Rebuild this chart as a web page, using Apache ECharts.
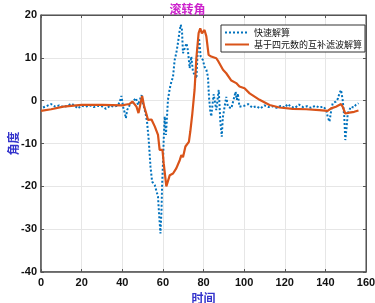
<!DOCTYPE html>
<html>
<head>
<meta charset="utf-8">
<script src="https://cdn.jsdelivr.net/npm/echarts@6/dist/echarts.min.js"></script>
<style>
  html, body { margin: 0; padding: 0; background: #fff; }
  #roll { width: 375px; height: 303px; }
</style>
</head>
<body>
<div id="roll"></div>
<script>
// 快速解算 (blue dotted)
var fastTime = [1,3,5,7,9,11,13,15,17,18,20,22,24,26,28,30,32,34,36,38,39,39.6,40.4,41.3,41.8,42.4,43.7,45.3,46.7,47.8,49.5,50.2,51.4,52.2,53,53.9,54.7,56,56.8,57.6,58.1,58.8,59.3,59.6,60.1,60.4,60.9,61.5,62,62.5,63.4,64.2,65,65.8,66.6,67.4,68.3,68.8,69.4,69.9,70.7,71.6,72.3,73.2,74,74.8,75.6,76.5,77.3,77.8,78.6,79.7,80.5,81.4,82.2,82.7,83.3,83.8,85,86.3,87.5,88.3,89,89.5,90.4,91.2,92,92.8,93.7,94.8,95.8,96.4,96.9,97.7,98.6,100,102,104,106,108,110,112,114,116,118,120,121.5,123,125,127,129,131,133,135,137,139,140.5,141.1,142,142.8,143.6,145.2,146.2,146.9,147.7,148.5,149.3,149.8,150.5,151,152.6,154,155,156.3];
var fastAngle = [-1.6,-1.2,-0.8,-1.4,-1.1,-1.5,-1.2,-0.7,-1.3,-1.8,-1.2,-1.4,-1.1,-1.5,-1.2,-1.3,-1.9,-1.2,-1.4,-1.1,0.2,1.1,-1.4,-3,-4.1,-2.2,-1,-0.2,0.6,-1,1.3,-0.6,-2.8,-4.9,-9,-15.4,-18.9,-19.7,-19.7,-22.4,-26.2,-31,-26,-20,-13.9,-9.2,-3.7,-8,-4,0.2,2.9,4.4,5.6,9.5,11.1,13.4,16.5,17.7,16.5,11.1,10.7,13.4,11.8,7.6,10.3,6.8,7.2,5.2,13.4,14.6,10.3,9.5,7.9,7.2,5.6,0.9,-2.2,-3.7,1.5,-2.2,2.5,-5,-8.4,-4,-1.4,0.9,-1.4,-1.2,-1.8,0.2,2.1,0.2,1.7,-1.4,-1.8,-1.2,-0.8,-1.6,-1.3,-1.8,-1.1,-1.5,-1.3,-1.7,-1.2,-1.6,-0.8,-1.4,-1.7,-0.9,-1.5,-1.3,-1.7,-1.2,-1.6,-1.4,-2.2,-3.7,-4.9,-2.5,-0.6,-0.2,0.5,1.7,2.5,0.2,-3.7,-9.2,-6,-3,-1.4,-1.6,-1,-0.6];

// 基于四元数的互补滤波解算 (orange solid)
var fusedTime = [0,5,11,20,30,40,40.4,42,43.5,45,47,48,49.8,50.8,52,52.7,54.4,56,57.6,58.4,59.8,60.4,61.7,63.4,65,66.6,68.3,69.1,69.9,71.1,72,72.8,73.5,74.5,75.6,76.5,77.6,78.4,79.2,80.5,81.4,82.5,83.8,86.3,87.4,88,89.6,91.2,92,93.7,94.5,96.1,97.7,100.2,102.7,107.6,112.5,117.4,123.9,130.5,137,141.1,142.8,145.2,147.7,148.5,149.8,151.8,154.2,156.3];
var fusedAngle = [-2.4,-2,-1.4,-1,-1,-1.1,-1.3,-0.9,-0.8,-0.2,-1.4,-2.9,1.1,-1.4,-3.3,-4.5,-4.4,-6,-8,-11.5,-11.5,-14.6,-20,-17.4,-17,-15.8,-13.9,-12.7,-13.2,-10.7,-11,-9.6,-7.2,-3,2.5,10,15.8,16.9,15.7,16.5,15,10.7,10.3,9.9,9.1,8.8,7.2,6.4,6,4.7,4.4,4.1,3.3,2.9,1.7,0.2,-1,-1.6,-1.9,-2,-2.2,-2.4,-1.8,-1.4,-0.8,-1.4,-3,-2.8,-2.6,-2.3];

function pairs(xs, ys) {
    return xs.map(function (x, i) { return [x, ys[i]]; });
}

var chart = echarts.init(document.getElementById('roll'));

var nameFont = {
    color: '#3333cc',
    fontSize: 12,
    fontWeight: 'bold',
    fontFamily: 'Noto Sans CJK SC'
};

chart.setOption({
    animation: false,
    title: {
        text: '滚转角',
        left: 'center',
        top: -2,
        textStyle: {
            color: '#cc22cc',
            fontSize: 12,
            fontWeight: 'bold',
            fontFamily: 'Noto Sans CJK SC'
        }
    },
    legend: {
        orient: 'vertical',
        right: 10,
        top: 25,
        backgroundColor: '#fff',
        borderColor: '#333',
        borderWidth: 1,
        borderRadius: 0,
        padding: [3, 3, 3, 3],
        itemGap: 3,
        itemWidth: 24,
        itemHeight: 9,
        itemStyle: { opacity: 0 },
        textStyle: {
            fontSize: 9,
            color: '#111',
            fontFamily: 'Noto Sans CJK SC'
        },
        data: ['快速解算', '基于四元数的互补滤波解算']
    },
    grid: {
        left: 41,
        right: 9,
        top: 15,
        bottom: 31,
        outerBoundsMode: 'none',
        show: true,
        borderColor: '#444',
        borderWidth: 1
    },
    xAxis: [
        {
            type: 'value',
            min: 0,
            max: 160,
            interval: 20,
            name: '时间',
            nameLocation: 'middle',
            nameGap: 20,
            nameMoveOverlap: false,
            nameTextStyle: nameFont,
            axisLine: { onZero: false, lineStyle: { color: '#555', width: 1.5 } },
            axisTick: { inside: true, length: 3, lineStyle: { color: '#555' } },
            axisLabel: {
                margin: 5,
                color: '#111',
                fontSize: 11,
                fontWeight: 'bold',
                fontFamily: 'Liberation Sans, Arial, sans-serif'
            },
            splitLine: { show: true, lineStyle: { color: '#e6e6e6', width: 1 } }
        },
        {
            type: 'value',
            position: 'top',
            min: 0,
            max: 160,
            interval: 20,
            axisLine: { show: true, onZero: false, lineStyle: { color: '#555' } },
            axisTick: { show: true, inside: true, length: 3, lineStyle: { color: '#555' } },
            axisLabel: { show: false },
            splitLine: { show: false }
        }
    ],
    yAxis: [
        {
            type: 'value',
            min: -40,
            max: 20,
            interval: 10,
            name: '角度',
            nameLocation: 'middle',
            nameGap: 22,
            nameMoveOverlap: false,
            nameTextStyle: nameFont,
            axisLine: { show: true, onZero: false, lineStyle: { color: '#555', width: 1.5 } },
            axisTick: { show: true, inside: true, length: 3, lineStyle: { color: '#555' } },
            axisLabel: {
                margin: 4,
                color: '#111',
                fontSize: 11,
                fontWeight: 'bold',
                fontFamily: 'Liberation Sans, Arial, sans-serif'
            },
            splitLine: { show: true, lineStyle: { color: '#e6e6e6', width: 1 } }
        },
        {
            type: 'value',
            position: 'right',
            min: -40,
            max: 20,
            interval: 10,
            axisLine: { show: true, onZero: false, lineStyle: { color: '#555' } },
            axisTick: { show: true, inside: true, length: 3, lineStyle: { color: '#555' } },
            axisLabel: { show: false },
            splitLine: { show: false }
        }
    ],
    series: [
        {
            type: 'line',
            name: '快速解算',
            showSymbol: false,
            symbol: 'none',
            color: '#0072bd',
            lineStyle: {
                width: 2,
                color: '#0072bd',
                type: [2, 2]
            },
            data: pairs(fastTime, fastAngle)
        },
        {
            type: 'line',
            name: '基于四元数的互补滤波解算',
            showSymbol: false,
            symbol: 'none',
            color: '#d95319',
            lineStyle: {
                width: 2.2,
                color: '#d95319'
            },
            data: pairs(fusedTime, fusedAngle)
        }
    ]
});
</script>
</body>
</html>
